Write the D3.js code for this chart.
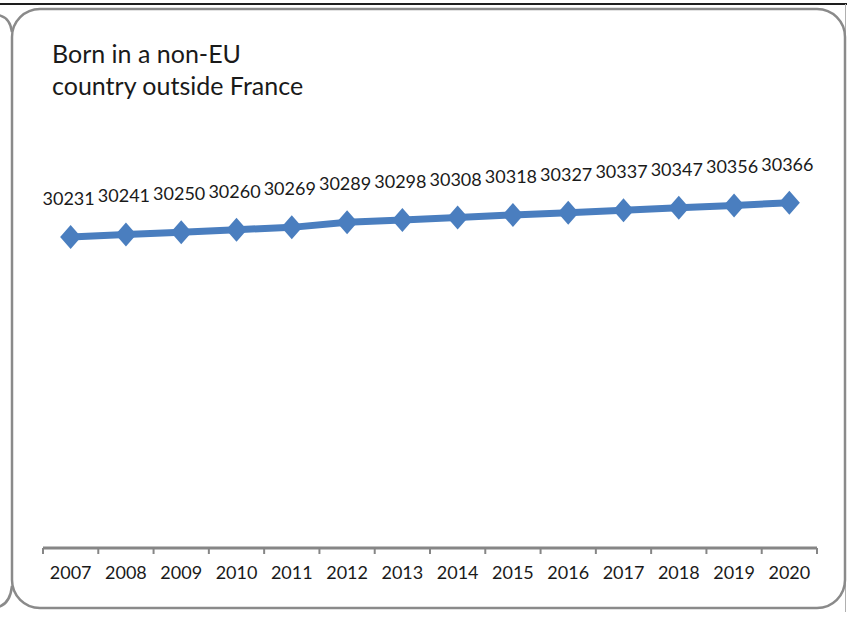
<!DOCTYPE html>
<html>
<head>
<meta charset="utf-8">
<script src="https://cdn.jsdelivr.net/npm/d3@7"></script>
<style>
  html, body { margin: 0; padding: 0; background: #fff; }
  svg { display: block; }
  text { font-family: Lato, "Open Sans", sans-serif; fill: #1a1a1a; }
</style>
</head>
<body>
<svg id="chart" width="847" height="617"></svg>
<script>
const titleLines = ["Born in a non-EU", "country outside France"];
const years = ["2007","2008","2009","2010","2011","2012","2013","2014","2015","2016","2017","2018","2019","2020"];
const values = [30231,30241,30250,30260,30269,30289,30298,30308,30318,30327,30337,30347,30356,30366];
const yDomain = [29000, 30500];

const svg = d3.select("#chart");

// frame
svg.append("line").attr("x1", 0).attr("x2", 847).attr("y1", 4).attr("y2", 4)
  .attr("stroke", "#1e1e1e").attr("stroke-width", 2);
svg.append("line").attr("x1", 845.5).attr("x2", 845.5).attr("y1", 4).attr("y2", 612)
  .attr("stroke", "#b0b0b0").attr("stroke-width", 1);
svg.append("rect").attr("x", 12).attr("y", 9).attr("width", 833).attr("height", 599)
  .attr("rx", 28).attr("ry", 28)
  .attr("fill", "#fff").attr("stroke", "#8a8a8a").attr("stroke-width", 2.5);
// neighbouring panel corners on the left
svg.append("path").attr("d", "M12,32 Q10,17 -2,15").attr("fill", "none")
  .attr("stroke", "#8a8a8a").attr("stroke-width", 2.5);
svg.append("path").attr("d", "M12,586 Q10,604 -2,607").attr("fill", "none")
  .attr("stroke", "#8a8a8a").attr("stroke-width", 2.5);

// title
const title = svg.append("text").attr("x", 52).attr("y", 63)
  .style("font-size", "25px");
title.selectAll("tspan").data(titleLines).join("tspan")
  .attr("x", 52).attr("dy", (d, i) => i === 0 ? 0 : 32).text(d => d);

// scales
const x = d3.scaleBand().domain(years).range([43, 817]).padding(0);
const y = d3.scaleLinear().domain(yDomain).range([548, 169]);
const cx = d => x(d) + x.bandwidth() / 2;

// x axis labels
const axisG = svg.append("g").attr("transform", "translate(0,548)")
  .call(d3.axisBottom(x).tickSize(0).tickPadding(18));
axisG.select(".domain").remove();
axisG.selectAll("text").style("font-family", "Lato, 'Open Sans', sans-serif")
  .style("font-size", "18px").attr("fill", "#1a1a1a");

// axis line and boundary ticks
const bounds = years.map(d => x(d)).concat([x(years[years.length - 1]) + x.bandwidth()]);
svg.append("line").attr("x1", x.range()[0]).attr("x2", x.range()[1])
  .attr("y1", 548).attr("y2", 548).attr("stroke", "#868686").attr("stroke-width", 3);
svg.append("g").selectAll("line").data(bounds).join("line")
  .attr("x1", d => d).attr("x2", d => d).attr("y1", 548).attr("y2", 554)
  .attr("stroke", "#868686").attr("stroke-width", 2);

// series line
const pts = years.map((d, i) => ({ year: d, value: values[i] }));
svg.append("path").datum(pts)
  .attr("d", d3.line().x(d => cx(d.year)).y(d => y(d.value)))
  .attr("fill", "none").attr("stroke", "#4a7ebf").attr("stroke-width", 7)
  .attr("stroke-linejoin", "round");

// diamond markers
svg.append("g").selectAll("path").data(pts).join("path")
  .attr("transform", d => `translate(${cx(d.year)},${y(d.value)})`)
  .attr("d", "M0,-12 L10.5,0 L0,12 L-10.5,0 Z")
  .attr("fill", "#4a7ebf");

// data labels
svg.append("g").selectAll("text").data(pts).join("text")
  .attr("x", d => cx(d.year) - 2).attr("y", d => y(d.value) - 32)
  .attr("text-anchor", "middle").style("font-size", "18px")
  .text(d => d.value);
</script>
</body>
</html>
